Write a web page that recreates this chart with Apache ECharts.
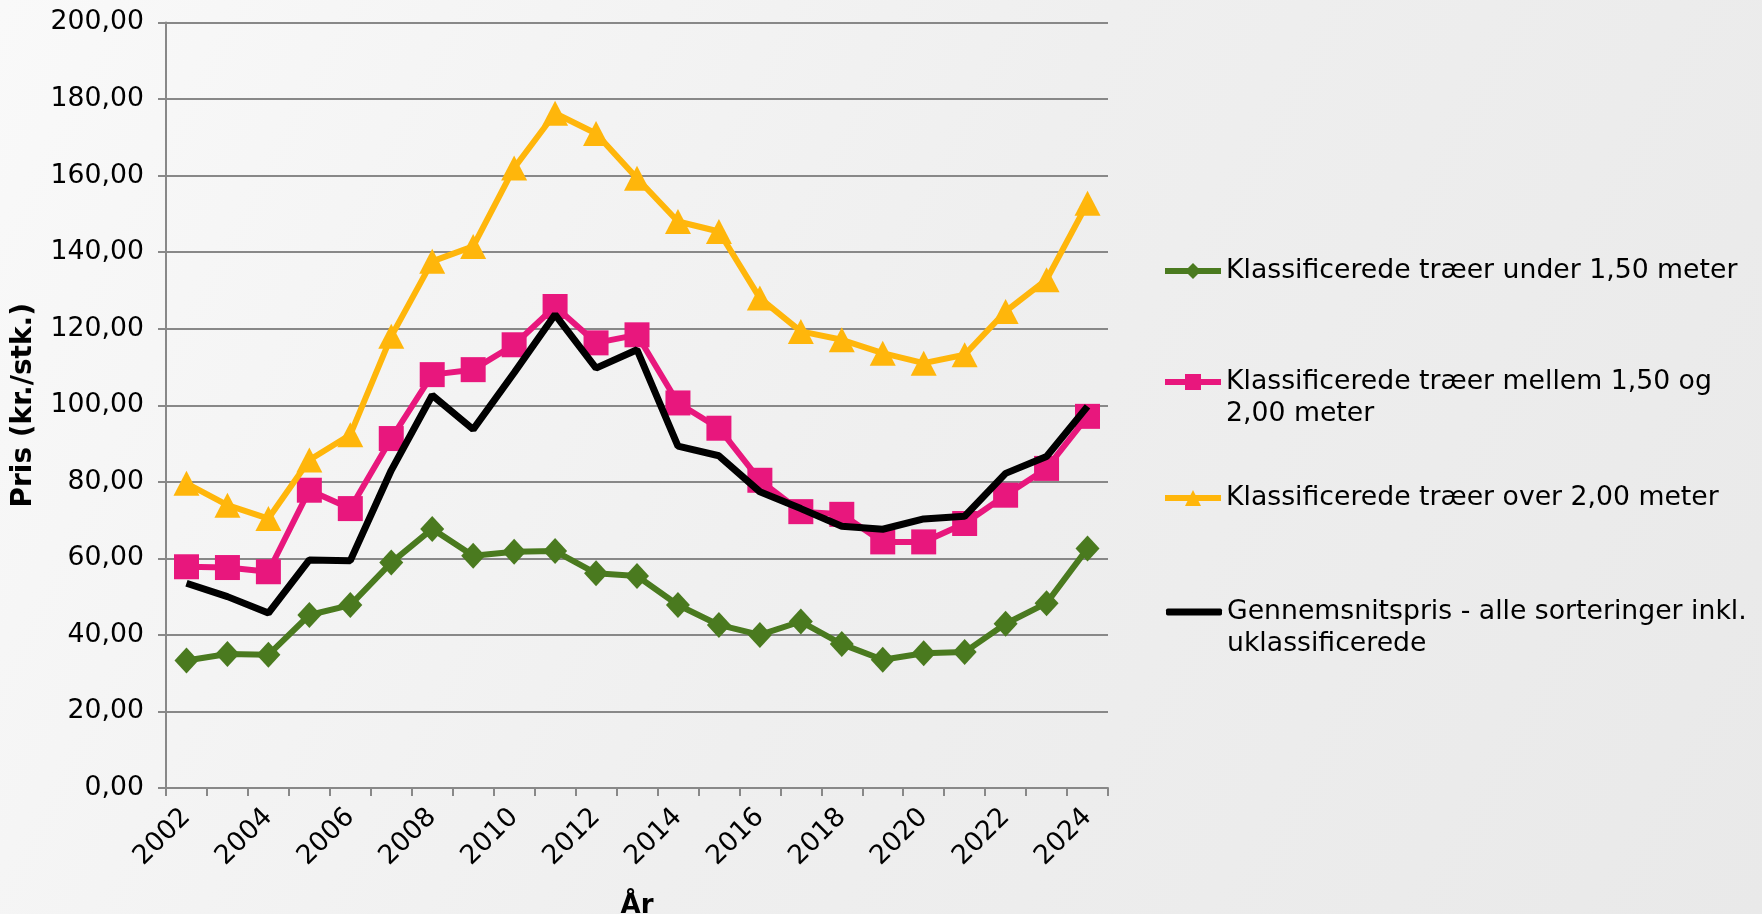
<!DOCTYPE html>
<head>
    <meta charset="UTF-8">
    <title>Pris pr. træ</title>
    <style>
        html, body { margin:0; padding:0; }
    </style>
</head>
<body>
<div id="main" style="width:1762px;height:914px"></div>
<script src="https://cdn.jsdelivr.net/npm/echarts@6/dist/echarts.min.js"></script>
<script type="text/javascript">
var years = ['2002','2003','2004','2005','2006','2007','2008','2009','2010','2011','2012','2013',
             '2014','2015','2016','2017','2018','2019','2020','2021','2022','2023','2024'];

var under150 = [33.3, 35.0, 34.8, 45.2, 47.8, 58.9, 67.7, 60.7, 61.7, 61.9, 56.1, 55.4,
                47.8, 42.6, 40.0, 43.5, 37.6, 33.5, 35.2, 35.5, 42.9, 48.3, 62.6];
var mellem = [57.8, 57.6, 56.5, 77.8, 73.0, 91.3, 108.0, 109.3, 115.8, 125.8, 116.3, 118.4,
              100.6, 94.0, 80.4, 72.2, 71.5, 64.3, 64.3, 69.1, 76.5, 83.5, 97.1];
var over200 = [79.6, 73.9, 70.4, 85.7, 92.3, 118.0, 137.6, 141.5, 162.0, 176.3, 171.0, 159.3,
               148.0, 145.4, 128.0, 119.3, 117.1, 113.6, 111.0, 113.2, 124.5, 132.8, 152.8];
var gennemsnit = [53.5, 50.0, 45.7, 59.6, 59.4, 83.0, 102.6, 93.7, 108.5, 123.7, 109.7, 114.5,
                  89.3, 86.8, 77.4, 73.0, 68.4, 67.6, 70.3, 71.0, 82.2, 86.6, 99.7];

var names = ['Klassificerede træer under 1,50 meter',
             'Klassificerede træer mellem 1,50 og 2,00 meter',
             'Klassificerede træer over 2,00 meter',
             'Gennemsnitspris - alle sorteringer inkl. uklassificerede'];

var FONT = 'DejaVu Sans';
var GRAY = '#888888';

// two-line legend entries get an empty first line so the icon sits level with the first text line
function wrapName(name) {
    if (name === names[1]) return '\nKlassificerede træer mellem 1,50 og\n2,00 meter';
    if (name === names[3]) return '\nGennemsnitspris - alle sorteringer inkl.\nuklassificerede';
    return name;
}

function legendAt(item, left, top, extra) {
    var l = {
        data: [item],
        orient: 'vertical',
        left: left,
        top: top,
        padding: 0,
        itemWidth: 56,
        itemHeight: 20,
        itemGap: 0,
        selectedMode: false,
        formatter: wrapName,
        lineStyle: { width: 6 },
        textStyle: {
            fontFamily: FONT,
            fontSize: 26.7,
            lineHeight: 32,
            color: '#000'
        }
    };
    for (var k in extra) l[k] = extra[k];
    return l;
}

var option = {
    backgroundColor: {
        type: 'linear', x: 0, y: 0, x2: 1, y2: 1,
        colorStops: [
            {offset: 0, color: '#f9f9f9'},
            {offset: 0.5, color: '#efefef'},
            {offset: 1, color: '#e9e9e9'}
        ]
    },
    animation: false,
    textStyle: { fontFamily: FONT },
    legend: [
        legendAt(names[0], 1162, 255),
        legendAt(names[1], 1162, 334),
        legendAt(names[2], 1162, 482),
        legendAt({name: names[3], icon: 'roundRect'}, 1166, 564, {itemHeight: 7})
    ],
    grid: {
        left: 166,
        right: 654,
        top: 22.5,
        bottom: 126,
        outerBoundsMode: 'none'
    },
    xAxis: {
        type: 'category',
        data: years,
        boundaryGap: true,
        name: 'År',
        nameLocation: 'middle',
        nameGap: 105,
        nameTextStyle: { fontFamily: FONT, fontSize: 26, fontWeight: 'bold', color: '#000' },
        axisLine: { lineStyle: { color: GRAY, width: 2 } },
        axisTick: { show: true, interval: 0, length: 8, lineStyle: { color: GRAY, width: 2 } },
        axisLabel: {
            interval: 1,
            rotate: 45,
            margin: 25,
            padding: [22, 0, 0, 0],
            fontFamily: FONT,
            fontSize: 26.7,
            color: '#000'
        },
        splitLine: { show: false }
    },
    yAxis: {
        type: 'value',
        min: 0,
        max: 200,
        interval: 20,
        name: 'Pris (kr./stk.)',
        nameLocation: 'middle',
        nameGap: 128,
        nameTextStyle: { fontFamily: FONT, fontSize: 28, fontWeight: 'bold', color: '#000' },
        axisLine: { show: true, lineStyle: { color: GRAY, width: 2 } },
        axisTick: { show: true, length: 8, lineStyle: { color: GRAY, width: 2 } },
        axisLabel: {
            margin: 22,
            fontFamily: FONT,
            fontSize: 26.7,
            color: '#000',
            formatter: function (v) { return v.toFixed(2).replace('.', ','); }
        },
        splitLine: { show: true, lineStyle: { color: GRAY, width: 2 } }
    },
    series: [
        {
            name: names[0],
            type: 'line',
            data: under150,
            symbol: 'diamond',
            symbolSize: [24, 26],
            color: '#4a7a1f',
            lineStyle: { width: 6, color: '#4a7a1f' },
            itemStyle: { color: '#4a7a1f' },
            z: 2
        },
        {
            name: names[1],
            type: 'line',
            data: mellem,
            symbol: 'rect',
            symbolSize: 25,
            color: '#e8177d',
            lineStyle: { width: 6, color: '#e8177d' },
            itemStyle: { color: '#e8177d' },
            z: 3
        },
        {
            name: names[2],
            type: 'line',
            data: over200,
            symbol: 'triangle',
            symbolSize: [26, 25],
            color: '#ffb60b',
            lineStyle: { width: 6, color: '#ffb60b' },
            itemStyle: { color: '#ffb60b' },
            z: 4
        },
        {
            name: names[3],
            type: 'line',
            data: gennemsnit,
            symbol: 'none',
            color: '#000',
            lineStyle: { width: 7, color: '#000' },
            z: 5
        }
    ]
};

var myChart = echarts.init(document.getElementById('main'));
myChart.setOption(option);
</script>
</body>
